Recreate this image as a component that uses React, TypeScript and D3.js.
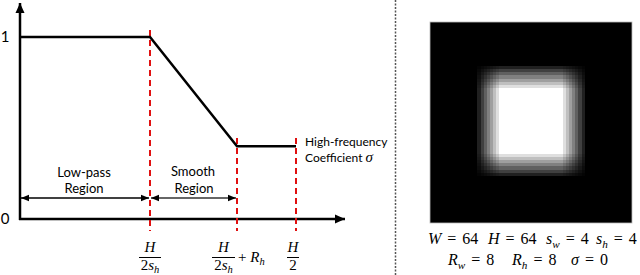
import React from "react";
import * as d3 from "d3";

// Schematic filter profile (left panel)
const freqKeys = [0, 8, 16, 32]; // 0, H/(2s_h), H/(2s_h)+R_h, H/2  (H=64, s_h=4, R_h=8)
const filterLevels = [1, 1, 0.4, 0.4]; // 1 -> 1 -> sigma level -> sigma level
const yTickValues = [0, 1];
const yTickLabels = ["0", "1"];

// Mask image (right panel): per-row and per-column weights of the 64x64 mask
const rowProfile = [
  0, 0, 0, 0, 0, 0, 0, 0, 0, 0, 0, 0, 0, 0,
  0.125, 0.25, 0.375, 0.5, 0.625, 0.75, 0.875,
  1, 1, 1, 1, 1, 1, 1, 1, 1, 1, 1, 1, 1, 1, 1, 1, 1, 1, 1, 1, 1,
  0.875, 0.75, 0.625, 0.5, 0.375, 0.25, 0.125,
  0, 0, 0, 0, 0, 0, 0, 0, 0, 0, 0, 0, 0, 0, 0,
];
const colProfile = [
  0, 0, 0, 0, 0, 0, 0, 0, 0, 0, 0, 0, 0, 0, 0,
  0.125, 0.25, 0.375, 0.5, 0.625, 0.75, 0.875,
  1, 1, 1, 1, 1, 1, 1, 1, 1, 1, 1, 1, 1, 1, 1, 1, 1, 1, 1, 1,
  0.875, 0.75, 0.625, 0.5, 0.375, 0.25, 0.125,
  0, 0, 0, 0, 0, 0, 0, 0, 0, 0, 0, 0, 0, 0, 0,
];

const SANS = "Lato, 'Open Sans', sans-serif";
const SERIF = "'Liberation Serif', 'DejaVu Serif', serif";
const RED = "#e01010";

type Tok = { v?: string; sub?: string; t?: string };

function MathText({ x, y, toks, size = 15, anchor = "start", wordSpacing = 0 }: { x: number; y: number; toks: Tok[]; size?: number; anchor?: string; wordSpacing?: number }) {
  const parts: React.ReactNode[] = [];
  const shift = Math.round(size * 0.22);
  let pending = 0;
  toks.forEach((tk, i) => {
    const dyNow = pending ? -pending : undefined;
    pending = 0;
    if (tk.v) {
      parts.push(
        <tspan key={i + "v"} fontStyle="italic" dy={dyNow}>{tk.v}</tspan>
      );
      if (tk.sub) {
        parts.push(
          <tspan key={i + "s"} fontStyle="italic" fontSize={size * 0.7} dy={shift}>{tk.sub}</tspan>
        );
        pending = shift;
      }
    } else if (tk.t) {
      parts.push(<tspan key={i + "t"} dy={dyNow}>{tk.t}</tspan>);
    }
  });
  return (
    <text x={x} y={y} fontFamily={SERIF} fontSize={size} textAnchor={anchor} fill="#000" wordSpacing={wordSpacing} style={{ whiteSpace: "pre" }}>
      {parts}
    </text>
  );
}

function Fraction({ cx, top, bottom, halfW }: { cx: number; top: Tok[]; bottom: Tok[]; halfW: number }) {
  return (
    <g>
      <MathText x={cx} y={252} toks={top} size={15} anchor="middle" />
      <line x1={cx - halfW} x2={cx + halfW} y1={257.5} y2={257.5} stroke="#000" strokeWidth={1} />
      <MathText x={cx} y={270} toks={bottom} size={15} anchor="middle" />
    </g>
  );
}

export default function App() {
  const x = d3.scaleLinear().domain(freqKeys).range([20, 150, 237, 296]);
  const y = d3.scaleLinear().domain([0, 1]).range([219, 37]);
  const line = d3
    .line<number>()
    .x((_, i) => x(freqKeys[i]))
    .y((d) => y(d));

  // heatmap
  const rows = d3.range(rowProfile.length);
  const cols = d3.range(colProfile.length);
  const hx = d3.scaleBand<number>().domain(cols).range([430, 632]);
  const hy = d3.scaleBand<number>().domain(rows).range([22, 223]);
  const gray = d3.scaleLinear<string>().domain([0, 1]).range(["#000000", "#ffffff"]);

  const cells: React.ReactNode[] = [];
  rows.forEach((r) => {
    cols.forEach((c) => {
      const v = rowProfile[r] * colProfile[c];
      if (v > 0) {
        cells.push(
          <rect key={r * 1000 + c} x={hx(c)} y={hy(r)} width={hx.bandwidth() + 0.3} height={hy.bandwidth() + 0.3} fill={gray(v)} />
        );
      }
    });
  });

  const xAxisEnd = 345;
  const yAxisTop = 3;

  return (
    <svg width={640} height={275} style={{ position: "fixed", left: 0, top: 0, background: "#fff" }}>
      <defs>
        <marker id="ah" viewBox="0 0 10 10" refX={10} refY={5} markerWidth={10} markerHeight={10} markerUnits="userSpaceOnUse" orient="auto">
          <path d="M0,0.5 L10,5 L0,9.5 Z" fill="#000" />
        </marker>
        <marker id="ahs" viewBox="0 0 10 10" refX={10} refY={5} markerWidth={8} markerHeight={8} markerUnits="userSpaceOnUse" orient="auto-start-reverse">
          <path d="M0,1 L10,5 L0,9 Z" fill="#000" />
        </marker>
      </defs>

      {/* axes */}
      <line x1={x(0)} x2={x(0)} y1={y(0) + 1} y2={yAxisTop} stroke="#000" strokeWidth={2.5} markerEnd="url(#ah)" />
      <line x1={x(0) - 1} x2={xAxisEnd} y1={y(0)} y2={y(0)} stroke="#000" strokeWidth={2.5} markerEnd="url(#ah)" />
      {yTickValues.map((v, i) => (
        <text key={i} x={5} y={y(v)} dy="0.35em" textAnchor="middle" fontFamily={SANS} fontSize={15}>{yTickLabels[i]}</text>
      ))}

      {/* red dashed guides */}
      <line x1={x(freqKeys[1])} x2={x(freqKeys[1])} y1={30} y2={231} stroke={RED} strokeWidth={2} strokeDasharray="6,4" />
      <line x1={x(freqKeys[2])} x2={x(freqKeys[2])} y1={138} y2={231} stroke={RED} strokeWidth={2} strokeDasharray="6,4" />
      <line x1={x(freqKeys[3])} x2={x(freqKeys[3])} y1={138} y2={231} stroke={RED} strokeWidth={2} strokeDasharray="6,4" />

      {/* filter curve */}
      <path d={line(filterLevels) || ""} fill="none" stroke="#000" strokeWidth={2.5} strokeLinejoin="miter" />

      {/* region arrows */}
      <line x1={x(freqKeys[0]) + 1} x2={x(freqKeys[1]) - 1} y1={198} y2={198} stroke="#000" strokeWidth={1.3} markerStart="url(#ahs)" markerEnd="url(#ahs)" />
      <line x1={x(freqKeys[1]) + 1} x2={x(freqKeys[2]) - 1} y1={198} y2={198} stroke="#333" strokeWidth={1.3} markerStart="url(#ahs)" markerEnd="url(#ahs)" />

      <g fontFamily={SANS} fontSize={13} textAnchor="middle" fill="#000">
        <text x={84} y={172} dy="0.35em">Low-pass</text>
        <text x={84} y={188} dy="0.35em">Region</text>
        <text x={193} y={171} dy="0.35em">Smooth</text>
        <text x={194} y={188} dy="0.35em">Region</text>
      </g>
      <text x={305} y={142} dy="0.35em" fontFamily={SANS} fontSize={12}>High-frequency</text>
      <text x={305} y={158} dy="0.35em" fontFamily={SANS} fontSize={12}>
        Coefficient <tspan fontFamily={SERIF} fontStyle="italic" fontSize={15}>σ</tspan>
      </text>

      {/* x labels */}
      <Fraction cx={150} top={[{ v: "H" }]} bottom={[{ t: "2" }, { v: "s", sub: "h" }]} halfW={11} />
      <Fraction cx={223.5} top={[{ v: "H" }]} bottom={[{ t: "2" }, { v: "s", sub: "h" }]} halfW={11.5} />
      <MathText x={238} y={262} toks={[{ t: "+ " }, { v: "R", sub: "h" }]} size={15} />
      <Fraction cx={293} top={[{ v: "H" }]} bottom={[{ t: "2" }]} halfW={6} />

      {/* separator */}
      <line x1={395.5} x2={395.5} y1={0} y2={275} stroke="#555" strokeWidth={1.5} strokeDasharray="2,1.5" />

      {/* mask image */}
      <rect x={430} y={22} width={202} height={201} fill="#000" stroke="#bbb" strokeWidth={0.8} />
      <g shapeRendering="crispEdges">{cells}</g>

      {/* parameter captions */}
      <MathText x={428} y={244} size={16} wordSpacing={2} toks={[{ v: "W" }, { t: " = 64" }]} />
      <MathText x={488} y={244} size={16} wordSpacing={2} toks={[{ v: "H" }, { t: " = 64" }]} />
      <MathText x={546} y={244} size={16} wordSpacing={2} toks={[{ v: "s", sub: "w" }, { t: " = 4" }]} />
      <MathText x={596} y={244} size={16} wordSpacing={2} toks={[{ v: "s", sub: "h" }, { t: " = 4" }]} />
      <MathText x={448} y={265} size={16} wordSpacing={2} toks={[{ v: "R", sub: "w" }, { t: " = 8" }]} />
      <MathText x={512} y={265} size={16} wordSpacing={2} toks={[{ v: "R", sub: "h" }, { t: " = 8" }]} />
      <MathText x={571} y={265} size={16} wordSpacing={2} toks={[{ v: "σ" }, { t: " = 0" }]} />
    </svg>
  );
}
